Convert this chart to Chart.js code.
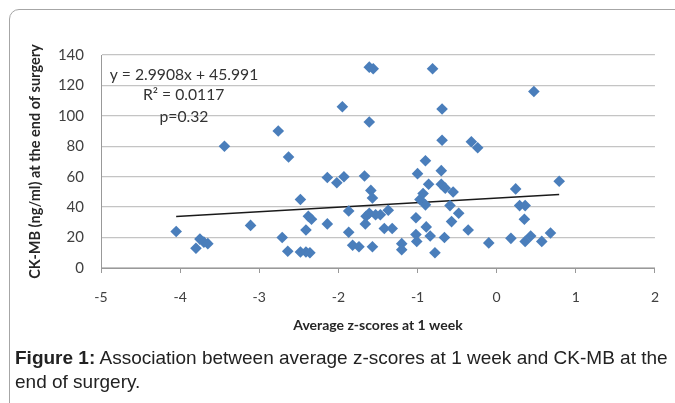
<!DOCTYPE html>
<html>
<head>
<meta charset="utf-8">
<script src="https://cdn.jsdelivr.net/npm/chart.js@4.4.1/dist/chart.umd.min.js"></script>
<style>
  html, body { margin: 0; padding: 0; background: #fff; overflow: hidden; }
  #wrap { position: relative; width: 675px; height: 403px; }
  #frame {
    position: absolute; left: 9px; top: 9px; width: 700px; height: 420px;
    border: 1px solid #a6a6a6; border-top-left-radius: 10px;
  }
  #chart { position: absolute; left: 0; top: 0; }
  #caption {
    position: absolute; left: 15px; top: 346px; width: 660px;
    font-family: "Liberation Sans", Arial, sans-serif; font-size: 19px;
    line-height: 24px; color: #222;
  }
</style>
</head>
<body>
<div id="wrap">
  <div id="frame"></div>
  <canvas id="chart" width="675" height="403"></canvas>
  <div id="caption"><b>Figure 1:</b> Association between average z-scores at 1 week and CK-MB at the end of surgery.</div>
</div>
<script>
  // average z-scores at 1 week
  const zScores = [
    -4.05, -3.80, -3.75, -3.70, -3.65, -3.44, -3.11, -2.76, -2.63, -2.71,
    -2.64, -2.48, -2.48, -2.41, -2.36, -2.38, -2.34, -2.41, -2.14, -2.14,
    -2.02, -1.93, -1.95, -1.87, -1.87, -1.82, -1.74, -1.67, -1.61, -1.56,
    -1.61, -1.59, -1.57, -1.65, -1.61, -1.66, -1.53, -1.47, -1.37, -1.42,
    -1.32, -1.57, -1.20, -1.20, -1.02, -1.02, -1.01, -1.00, -0.90, -0.97,
    -0.93, -0.86, -0.90, -0.89, -0.84, -0.81, -0.78, -0.70, -0.70, -0.69,
    -0.69, -0.65, -0.66, -0.59, -0.57, -0.55, -0.48, -0.36, -0.32, -0.24,
    -0.10, 0.18, 0.24, 0.29, 0.36, 0.35, 0.36, 0.43, 0.47, 0.57,
    0.68, 0.79
  ];
  // CK-MB (ng/ml) at the end of surgery
  const ckmb = [
    24, 13, 19, 17, 16, 80, 28, 90, 73, 20,
    11, 45, 10.5, 10.5, 10, 34, 32, 25, 29, 59.5,
    56, 60, 106, 37.5, 23.5, 15, 14, 60.5, 132, 131,
    96, 51, 46, 34, 36, 29, 35, 35, 38, 26,
    26, 14, 16, 12, 33, 22, 17.5, 62, 70.5, 45,
    49, 55, 41.5, 27, 21, 131, 10, 64, 55, 104.5,
    84, 52.5, 20, 41, 30.5, 50, 36, 25, 83, 79,
    16.5, 19.5, 52, 41, 41, 32, 17.5, 21, 116, 17.5,
    23, 57
  ];
  const xTicks = [-5, -4, -3, -2, -1, 0, 1, 2];
  const yTicks = [0, 20, 40, 60, 80, 100, 120, 140];
  const slope = 2.9908;
  const intercept = 45.991;
  const statLines = ['y = 2.9908x + 45.991', 'R\u00b2 = 0.0117', 'p=0.32'];

  const points = zScores.map((x, i) => ({ x: x, y: ckmb[i] }));
  const xMin = Math.min(...zScores);
  const xMax = Math.max(...zScores);
  const trend = [
    { x: xMin, y: slope * xMin + intercept },
    { x: xMax, y: slope * xMax + intercept },
  ];

  const statsPlugin = {
    id: 'stats',
    afterDatasetsDraw(chart) {
      const ctx = chart.ctx;
      const xs = chart.scales.x;
      const ys = chart.scales.y;
      ctx.save();
      ctx.fillStyle = '#333';
      ctx.font = '15.7px Lato';
      ctx.textBaseline = 'middle';
      ctx.textAlign = 'left';
      ctx.fillText(statLines[0], xs.getPixelForValue(-4.89), ys.getPixelForValue(126.8));
      ctx.fillText(statLines[1], xs.getPixelForValue(-4.47), ys.getPixelForValue(113.8));
      ctx.fillText(statLines[2], xs.getPixelForValue(-4.26), ys.getPixelForValue(99.2));
      ctx.restore();
    },
  };

  const ctx = document.getElementById('chart').getContext('2d');
  new Chart(ctx, {
    type: 'scatter',
    data: {
      datasets: [
        {
          data: points,
          pointStyle: 'rectRot',
          pointRadius: 5.8,
          pointHoverRadius: 5.8,
          backgroundColor: '#4a7ebb',
          borderWidth: 0,
        },
        {
          type: 'line',
          data: trend,
          borderColor: '#1a1a1a',
          borderWidth: 1.5,
          pointRadius: 0,
          fill: false,
        },
      ],
    },
    options: {
      responsive: false,
      animation: false,
      layout: { padding: { left: 0, top: 55, right: 15, bottom: 65 } },
      plugins: { legend: { display: false }, tooltip: { enabled: false } },
      scales: {
        x: {
          type: 'linear',
          min: -5,
          max: 2,
          afterBuildTicks: (s) => { s.ticks = xTicks.map((v) => ({ value: v })); },
          afterFit: (s) => { s.height = 70; },
          grid: { drawOnChartArea: false, drawTicks: true, tickLength: 5, color: '#999' },
          border: { color: '#999' },
          ticks: { padding: 16, color: '#404040', font: { family: 'Lato', size: 14 } },
          title: {
            display: true,
            text: 'Average z-scores at 1 week',
            color: '#262626',
            font: { family: 'Lato', size: 14, weight: 'bold' },
            padding: { top: 0, bottom: 4 },
          },
        },
        y: {
          min: 0,
          max: 140,
          afterBuildTicks: (s) => { s.ticks = yTicks.map((v) => ({ value: v })); },
          afterFit: (s) => { s.width = 101; },
          grid: { color: '#c4c4c4', lineWidth: 1.3, drawTicks: false },
          border: { color: '#999' },
          ticks: { padding: 17, color: '#404040', font: { family: 'Lato', size: 15 } },
          title: {
            display: true,
            text: 'CK-MB (ng/ml) at the end of surgery',
            color: '#262626',
            font: { family: 'Lato', size: 14.5, weight: 'bold' },
            padding: { top: 27, bottom: 0 },
          },
        },
      },
    },
    plugins: [statsPlugin],
  });
</script>
</body>
</html>
